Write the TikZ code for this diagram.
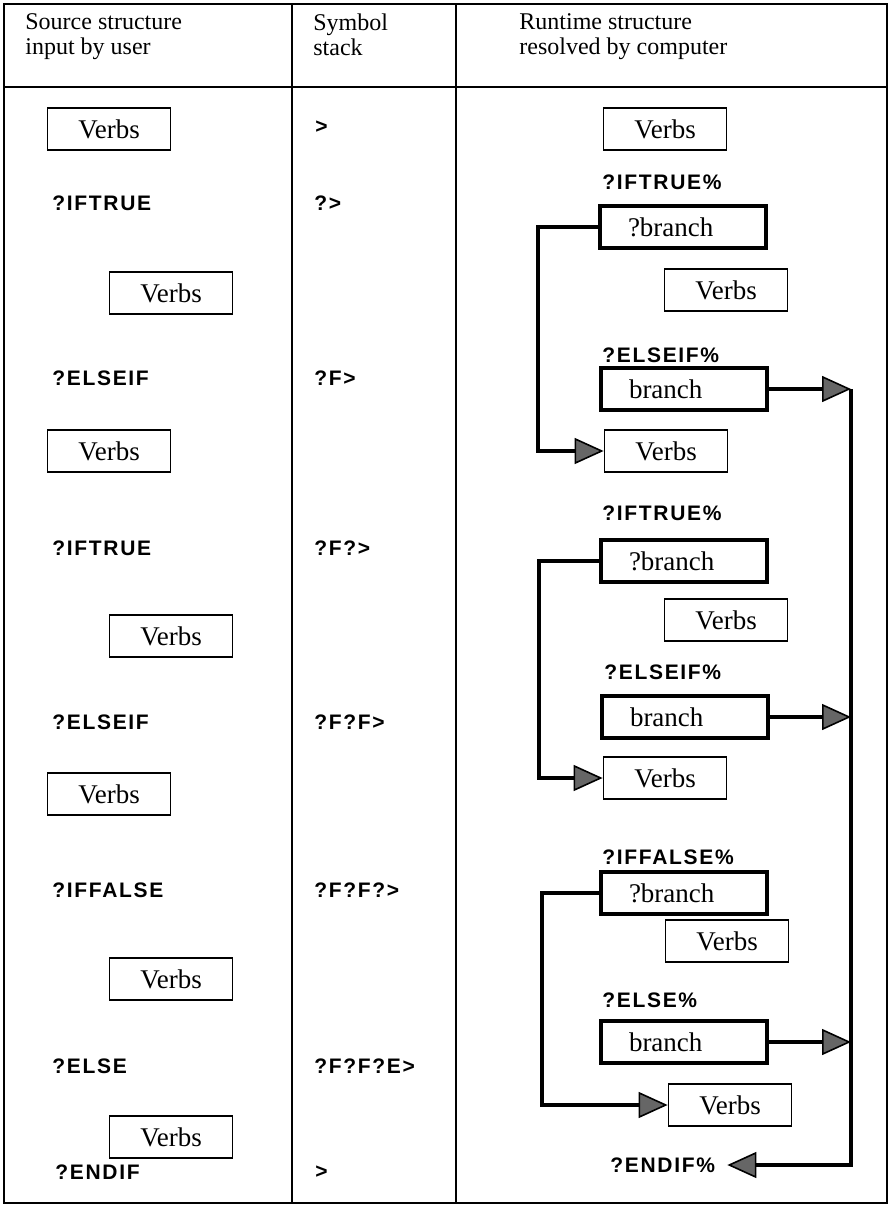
\documentclass[tikz,border=0pt]{standalone}
\usepackage{fontspec}
\setmainfont{Liberation Serif}
\newfontfamily\kwfont{Liberation Sans}[LetterSpace=8]
\usetikzlibrary{arrows.meta}

\tikzset{
  verbs/.style={draw, line width=0.9pt, minimum width=61.5pt, minimum height=21pt, inner sep=0pt, font=\fontsize{13.5}{13.5}\selectfont},
  branchbox/.style={draw, line width=2.2pt, text width=83pt, minimum height=21pt, inner sep=0pt, align=left, font=\fontsize{13.5}{13.5}\selectfont},
  kw/.style={anchor=west, inner sep=0pt, font=\kwfont\bfseries\fontsize{10.5}{12}\selectfont},
  head/.style={anchor=north west, inner sep=0pt, align=left, font=\fontsize{12}{12.5}\selectfont},
  rule/.style={line width=0.8pt},
  link/.style={line width=1.8pt},
  fat/.tip={Triangle[length=14.5pt,width=13pt,fill=black!60,line width=0.8pt]}
}

\begin{document}
\begin{tikzpicture}[x=0.5pt, y=-0.5pt]
  \useasboundingbox (0,0) rectangle (889,1210);
  % table frame
  \draw[rule] (4,4) rectangle (887,1203);
  \draw[rule] (4,87) -- (887,87);
  \draw[rule] (292,4) -- (292,1203);
  \draw[rule] (456,4) -- (456,1203);

  \node[head] (h1) at (25,13) {Source structure\\input by user};
  \node[head] (h2) at (313,13) {Symbol\\stack};
  \node[head] (h3) at (519,13) {Runtime structure\\resolved by computer};

  % source column
  \node[verbs] (s1) at (109,129) {Verbs};
  \node[kw] (s2) at (52,203) {?IFTRUE};
  \node[verbs] (s3) at (171,293) {Verbs};
  \node[kw] (s4) at (52,378) {?ELSEIF};
  \node[verbs] (s5) at (109,451) {Verbs};
  \node[kw] (s6) at (52,548) {?IFTRUE};
  \node[verbs] (s7) at (171,636) {Verbs};
  \node[kw] (s8) at (52,722) {?ELSEIF};
  \node[verbs] (s9) at (109,794) {Verbs};
  \node[kw] (s10) at (52,890) {?IFFALSE};
  \node[verbs] (s11) at (171,979) {Verbs};
  \node[kw] (s12) at (52,1066) {?ELSE};
  \node[verbs] (s13) at (171,1137) {Verbs};
  \node[kw] (s14) at (55,1172) {?ENDIF};

  % stack column
  \node[kw] (k1) at (315,127) {>};
  \node[kw] (k2) at (314,203) {?>};
  \node[kw] (k3) at (314,378) {?F>};
  \node[kw] (k4) at (314,548) {?F?>};
  \node[kw] (k5) at (314,722) {?F?F>};
  \node[kw] (k6) at (314,890) {?F?F?>};
  \node[kw] (k7) at (314,1066) {?F?F?E>};
  \node[kw] (k8) at (315,1172) {>};

  % runtime column
  \node[verbs] (r1) at (665,129) {Verbs};
  \node[kw] (t1) at (602,182) {?IFTRUE\%};
  \node[branchbox] (b1) at (683,227) {\hspace*{14pt}?branch};
  \node[verbs] (r2) at (726,290) {Verbs};
  \node[kw] (t2) at (602,355) {?ELSEIF\%};
  \node[branchbox] (b2) at (684,389) {\hspace*{14pt}branch};
  \node[verbs] (r3) at (666,451) {Verbs};
  \node[kw] (t3) at (602,513) {?IFTRUE\%};
  \node[branchbox] (b3) at (684,561) {\hspace*{14pt}?branch};
  \node[verbs] (r4) at (726,620) {Verbs};
  \node[kw] (t4) at (604,672) {?ELSEIF\%};
  \node[branchbox] (b4) at (685,717) {\hspace*{14pt}branch};
  \node[verbs] (r5) at (665,778) {Verbs};
  \node[kw] (t5) at (602,857) {?IFFALSE\%};
  \node[branchbox] (b5) at (684,893) {\hspace*{14pt}?branch};
  \node[verbs] (r6) at (727,941) {Verbs};
  \node[kw] (t6) at (602,1000) {?ELSE\%};
  \node[branchbox] (b6) at (684,1042) {\hspace*{14pt}branch};
  \node[verbs] (r7) at (730,1105) {Verbs};
  \node[kw] (t7) at (610,1165) {?ENDIF\%};

  \coordinate (j1) at (851,389);
  \coordinate (j2) at (851,717);
  \coordinate (j3) at (851,1042);

  \draw[link,-fat] (b1.west) -- ++(-60,0) |- (r3.west);
  \draw[link,-fat] (b3.west) -- ++(-60,0) |- (r5.west);
  \draw[link,-fat] (b5.west) -- ++(-57,0) |- (r7.west);
  \draw[link,-fat] (b2.east) -- (j1);
  \draw[link,-fat] (b4.east) -- (j2);
  \draw[link,-fat] (b6.east) -- (j3);
  \draw[link,-fat,shorten >=6pt] (j1) |- (t7.east);
\end{tikzpicture}
\end{document}
